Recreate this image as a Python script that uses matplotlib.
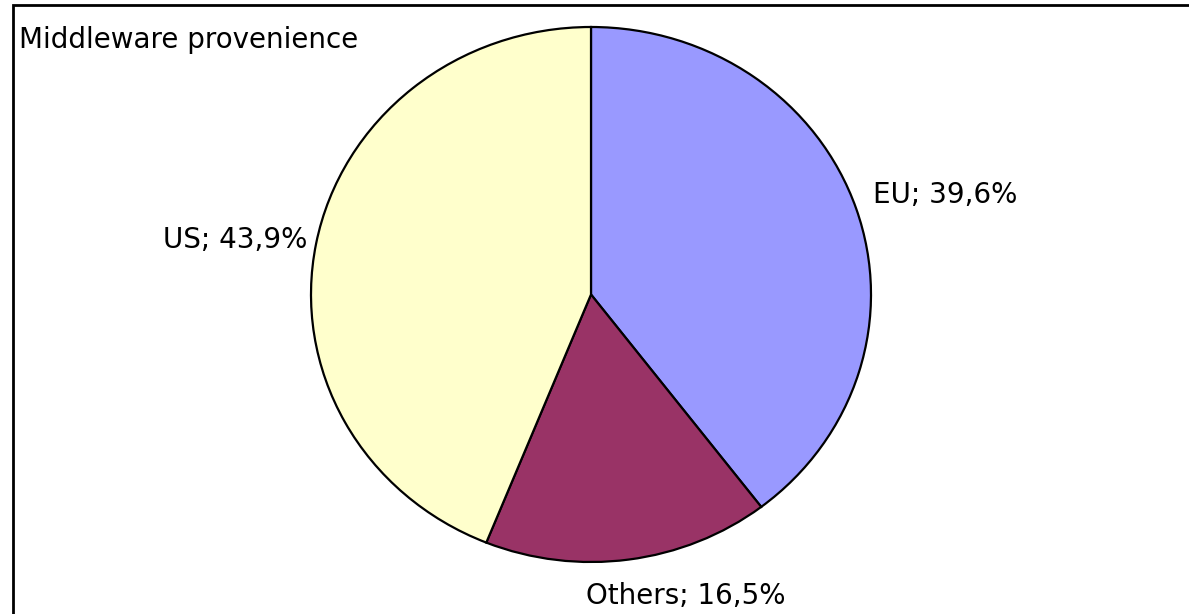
import matplotlib.pyplot as plt
from matplotlib.patches import Rectangle

# Data
regions = ['EU', 'Others', 'US']
shares = [39.6, 16.5, 43.9]
colors = ['#9999FF', '#993366', '#FFFFCC']
title = 'Middleware provenience'

plt.rcParams['font.family'] = ['DejaVu Sans']

W, H = 1189, 614
fig = plt.figure(figsize=(W / 100, H / 100), dpi=100)

def px(x, y):
    # pixel (from top-left) -> figure fraction
    return x / W, 1 - y / H

# outer frame (only top and left edges are inside the picture)
fig.patches.append(Rectangle(px(13, 640), 1300 / W, 635 / H, transform=fig.transFigure,
                             fill=False, edgecolor='black', linewidth=2))

# pie axes, slightly wider than tall like the original
left, top, right, bottom = 311, 27, 871, 562
ax = fig.add_axes([left / W, 1 - bottom / H, (right - left) / W, (bottom - top) / H])
ax.pie(shares, colors=colors, startangle=90, counterclock=False,
       wedgeprops=dict(edgecolor='black', linewidth=1.6))
ax.set_aspect('auto')
ax.set_xlim(-1, 1)
ax.set_ylim(-1, 1)
ax.axis('off')

labels = [f"{r}; {v:.1f}%".replace('.', ',') for r, v in zip(regions, shares)]
fs = 20
fig.text(*px(873, 195), labels[0], ha='left', va='center', fontsize=fs)
fig.text(*px(686, 596), labels[1], ha='center', va='center', fontsize=fs)
fig.text(*px(307, 240), labels[2], ha='right', va='center', fontsize=fs)

fig.text(*px(19, 40), title, ha='left', va='center', fontsize=fs)

fig.savefig('out.png', dpi=100)
